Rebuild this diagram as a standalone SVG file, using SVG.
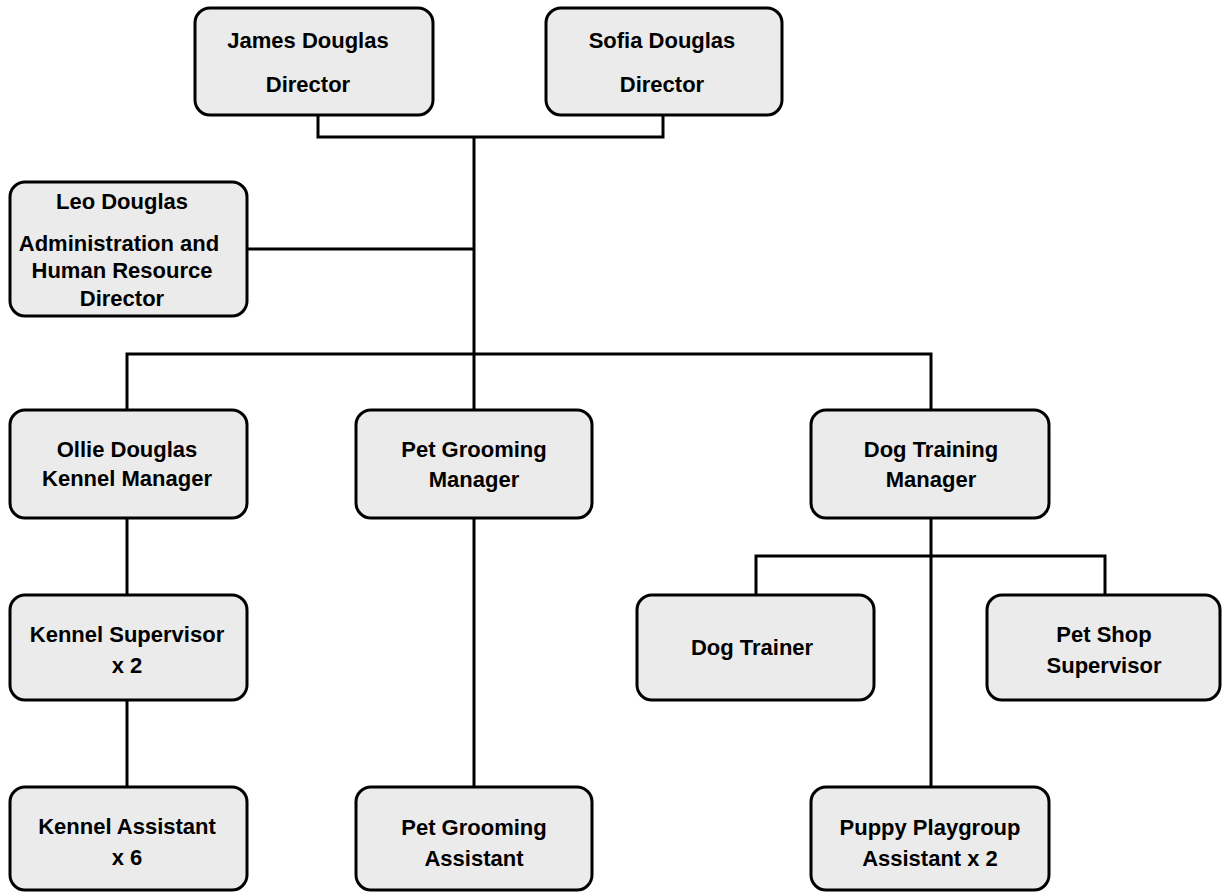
<svg xmlns="http://www.w3.org/2000/svg" width="1223" height="896" viewBox="0 0 1223 896">
<style>
.box{fill:#ebebeb;stroke:#000;stroke-width:3}
.t{font-family:"Liberation Sans",Arial,sans-serif;font-weight:bold;font-size:22px;text-anchor:middle;fill:#000}
.c{fill:none;stroke:#000;stroke-width:3}
</style>
<rect width="1223" height="896" fill="#fff"/>
<g id="connectors">
<path class="c" d="M318 115V137H663V115"/>
<path class="c" d="M474 137V354"/>
<path class="c" d="M247 249H474"/>
<path class="c" d="M127 410V354H931V410"/>
<path class="c" d="M474 354V410"/>
<path class="c" d="M127 518V595"/>
<path class="c" d="M127 700V787"/>
<path class="c" d="M474 518V787"/>
<path class="c" d="M931 518V787"/>
<path class="c" d="M756 595V556H1105V595"/>
</g>
<g id="james"><rect class="box" x="195" y="8" width="238" height="107" rx="15"/><text class="t" x="308" y="48">James Douglas</text><text class="t" x="308" y="92">Director</text></g>
<g id="sofia"><rect class="box" x="546" y="8" width="236" height="107" rx="15"/><text class="t" x="662" y="48">Sofia Douglas</text><text class="t" x="662" y="92">Director</text></g>
<g id="leo"><rect class="box" x="10" y="182" width="237" height="134" rx="15"/><text class="t" x="122" y="209">Leo Douglas</text><text class="t" x="119" y="251">Administration and</text><text class="t" x="122" y="278">Human Resource</text><text class="t" x="122" y="306">Director</text></g>
<g id="ollie"><rect class="box" x="10" y="410" width="237" height="108" rx="15"/><text class="t" x="127" y="457">Ollie Douglas</text><text class="t" x="127" y="486">Kennel Manager</text></g>
<g id="pgm"><rect class="box" x="356" y="410" width="236" height="108" rx="15"/><text class="t" x="474" y="457">Pet Grooming</text><text class="t" x="474" y="487">Manager</text></g>
<g id="dtm"><rect class="box" x="811" y="410" width="238" height="108" rx="15"/><text class="t" x="931" y="457">Dog Training</text><text class="t" x="931" y="487">Manager</text></g>
<g id="ks"><rect class="box" x="10" y="595" width="237" height="105" rx="15"/><text class="t" x="127" y="642">Kennel Supervisor</text><text class="t" x="127" y="673">x 2</text></g>
<g id="dt"><rect class="box" x="637" y="595" width="237" height="105" rx="15"/><text class="t" x="752" y="655">Dog Trainer</text></g>
<g id="pss"><rect class="box" x="987" y="595" width="233" height="105" rx="15"/><text class="t" x="1104" y="642">Pet Shop</text><text class="t" x="1104" y="673">Supervisor</text></g>
<g id="ka"><rect class="box" x="10" y="787" width="237" height="103" rx="15"/><text class="t" x="127" y="834">Kennel Assistant</text><text class="t" x="127" y="865">x 6</text></g>
<g id="pga"><rect class="box" x="356" y="787" width="236" height="103" rx="15"/><text class="t" x="474" y="835">Pet Grooming</text><text class="t" x="474" y="866">Assistant</text></g>
<g id="ppa"><rect class="box" x="811" y="787" width="238" height="103" rx="15"/><text class="t" x="930" y="835">Puppy Playgroup</text><text class="t" x="930" y="866">Assistant x 2</text></g>
</svg>
